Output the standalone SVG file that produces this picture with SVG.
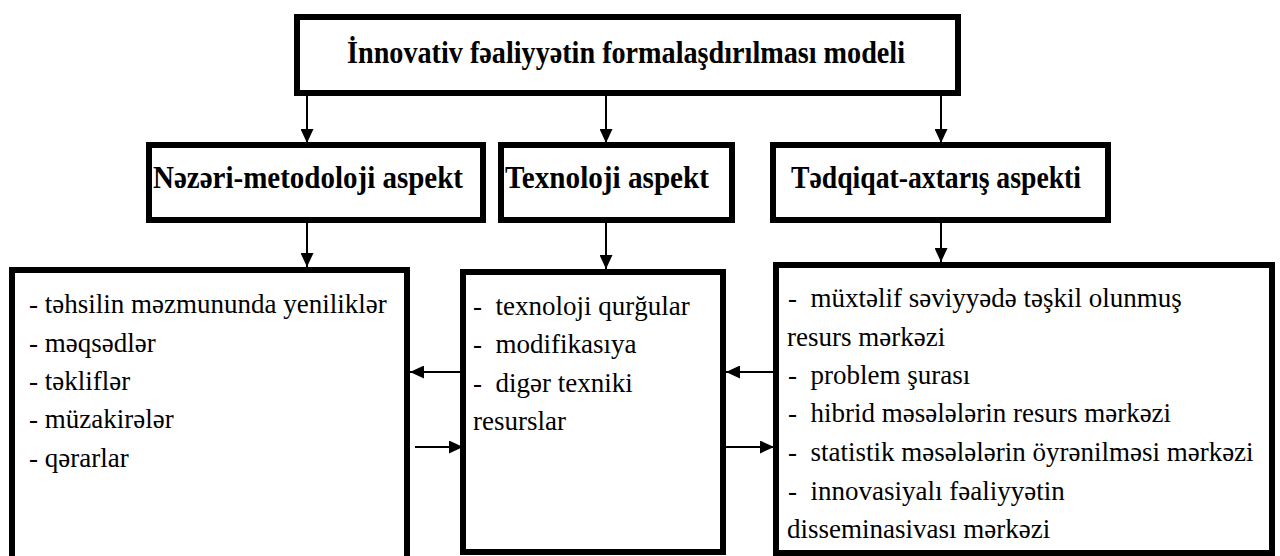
<svg xmlns="http://www.w3.org/2000/svg" width="1280" height="556" viewBox="0 0 1280 556">
<style>
.box{fill:#fff;stroke:#000;stroke-width:6}
.hd{font-family:"Liberation Serif","DejaVu Serif","Times New Roman",serif;font-weight:bold;font-size:31px;fill:#000}
.tx{font-family:"Liberation Serif","DejaVu Serif","Times New Roman",serif;font-size:27px;fill:#000;white-space:pre}
.cn{stroke:#000;stroke-width:2;fill:none;marker-end:url(#ah)}
</style>
<defs>
<marker id="ah" viewBox="0 0 14 13" markerUnits="userSpaceOnUse" markerWidth="14" markerHeight="13" refX="14" refY="6.5" orient="auto">
<path d="M0,0 L14,6.5 L0,13 Z" fill="#000"/>
</marker>
</defs>
<rect width="1280" height="556" fill="#fff"/>
<g id="title">
<rect class="box" x="297" y="17" width="661" height="76"/>
<text class="hd" x="347" y="63" textLength="558" lengthAdjust="spacingAndGlyphs">İnnovativ fəaliyyətin formalaşdırılması modeli</text>
</g>
<g id="nezeri">
<rect class="box" x="149" y="145" width="334" height="75"/>
<text class="hd" x="153" y="188" textLength="310" lengthAdjust="spacingAndGlyphs">Nəzəri-metodoloji aspekt</text>
</g>
<g id="texnoloji">
<rect class="box" x="501" y="145" width="231" height="75"/>
<text class="hd" x="505" y="188" textLength="204" lengthAdjust="spacingAndGlyphs">Texnoloji aspekt</text>
</g>
<g id="tedqiqat">
<rect class="box" x="773" y="145" width="335" height="75"/>
<text class="hd" x="791" y="188" textLength="290" lengthAdjust="spacingAndGlyphs">Tədqiqat-axtarış aspekti</text>
</g>
<g id="left-list">
<rect class="box" x="12" y="270" width="395" height="289"/>
<text class="tx" xml:space="preserve" x="29" y="313">- təhsilin məzmununda yeniliklər</text>
<text class="tx" xml:space="preserve" x="29" y="352">- məqsədlər</text>
<text class="tx" xml:space="preserve" x="29" y="390">- təkliflər</text>
<text class="tx" xml:space="preserve" x="29" y="428">- müzakirələr</text>
<text class="tx" xml:space="preserve" x="29" y="467">- qərarlar</text>
</g>
<g id="middle-list">
<rect class="box" x="463" y="272" width="260" height="280"/>
<text class="tx" xml:space="preserve" x="473" y="315">-  texnoloji qurğular</text>
<text class="tx" xml:space="preserve" x="473" y="353">-  modifikasıya</text>
<text class="tx" xml:space="preserve" x="473" y="392">-  digər texniki</text>
<text class="tx" xml:space="preserve" x="473" y="430">resurslar</text>
</g>
<g id="right-list">
<rect class="box" x="776" y="265" width="496" height="288"/>
<text class="tx" xml:space="preserve" x="788" y="307">-  müxtəlif səviyyədə təşkil olunmuş</text>
<text class="tx" xml:space="preserve" x="787" y="346">resurs mərkəzi</text>
<text class="tx" xml:space="preserve" x="788" y="384">-  problem şurası</text>
<text class="tx" xml:space="preserve" x="788" y="422">-  hibrid məsələlərin resurs mərkəzi</text>
<text class="tx" xml:space="preserve" x="788" y="461">-  statistik məsələlərin öyrənilməsi mərkəzi</text>
<text class="tx" xml:space="preserve" x="788" y="500">-  innovasiyalı fəaliyyətin</text>
<text class="tx" xml:space="preserve" x="787" y="538">disseminasivası mərkəzi</text>
</g>
<g id="connectors">
<path class="cn" d="M307,96 V143"/>
<path class="cn" d="M606,96 V143"/>
<path class="cn" d="M941,96 V143"/>
<path class="cn" d="M307,223 V267"/>
<path class="cn" d="M606,223 V269"/>
<path class="cn" d="M941,223 V262"/>
<path class="cn" d="M460,372 H410"/>
<path class="cn" d="M415,447 H463"/>
<path class="cn" d="M774,372 H726"/>
<path class="cn" d="M726,447 H774"/>
</g>
</svg>
